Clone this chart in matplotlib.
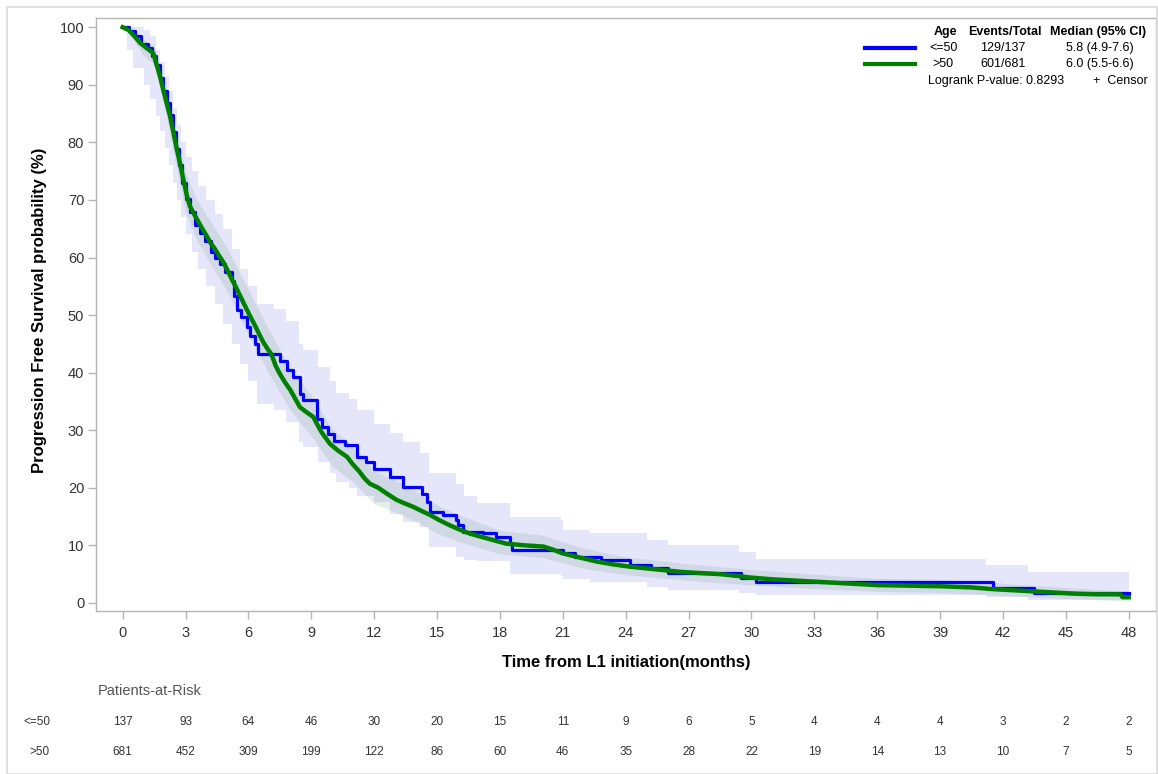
import numpy as np
import matplotlib
matplotlib.use('Agg')
import matplotlib.pyplot as plt
from matplotlib.lines import Line2D
from matplotlib.patches import Rectangle
import matplotlib.transforms as mtransforms

plt.rcParams['font.family'] = ['Liberation Sans', 'DejaVu Sans']

# KM estimate, Age <= 50
t_young = [0.0, 0.3, 0.6, 0.9, 1.2, 1.4, 1.6, 1.8, 1.95, 2.1, 2.25, 2.4, 2.55, 2.7, 2.85,
           3.0, 3.2, 3.45, 3.7, 3.95, 4.2, 4.4, 4.64, 4.9, 5.2, 5.3, 5.44, 5.65, 5.92, 6.1,
           6.3, 6.47, 7.2, 7.5, 7.82, 8.14, 8.46, 8.62, 9.25, 9.5, 9.8, 10.1, 10.6, 11.2,
           11.6, 12.0, 12.75, 13.4, 14.3, 14.5, 14.66, 15.3, 15.9, 16.0, 16.25, 17.2, 17.8,
           18.5, 18.6, 20.2, 21.0, 21.6, 22.8, 24.2, 25.2, 26.0, 29.5, 30.2, 41.5, 43.5, 48.0]
s_young = [100.0, 99.3, 98.5, 97.1, 96.4, 95.0, 93.4, 91.2, 89.0, 86.9, 84.7, 81.8, 78.9, 76.0, 73.0,
           70.1, 67.9, 65.7, 64.2, 62.8, 61.0, 60.0, 58.9, 57.5, 56.0, 53.3, 50.8, 49.6, 47.9, 46.4,
           44.9, 43.3, 43.3, 42.0, 40.4, 39.2, 36.3, 35.2, 32.0, 30.6, 29.4, 28.2, 27.4, 25.4,
           24.5, 23.3, 21.9, 20.2, 19.0, 17.5, 15.8, 15.3, 14.4, 13.6, 12.4, 12.1, 11.4,
           10.3, 9.2, 9.2, 8.7, 8.0, 7.5, 6.6, 6.1, 5.2, 4.3, 3.6, 2.6, 1.7, 1.7]

# KM estimate, Age > 50 (many small steps, read as a dense trace)
t_old = [0.0, 0.3, 0.6, 0.83, 1.1, 1.46, 1.62, 1.78, 1.95, 2.1, 2.26, 2.42, 2.58, 2.74, 2.89,
         3.05, 3.2, 3.37, 3.6, 3.8, 4.0, 4.2, 4.4, 4.6, 4.8, 5.0, 5.2, 5.44, 5.65, 5.85, 6.07,
         6.3, 6.5, 6.71, 6.9, 7.1, 7.3, 7.5, 7.75, 8.0, 8.23, 8.46, 8.75, 9.1, 9.3, 9.5, 9.7,
         9.9, 10.3, 10.7, 11.0, 11.3, 11.55, 11.8, 12.2, 12.6, 13.07, 13.45, 13.86, 14.25,
         14.66, 15.1, 15.6, 16.1, 16.6, 17.2, 17.8, 18.3, 19.2, 20.07, 20.5, 21.0, 21.8, 22.6,
         23.4, 24.2, 25.0, 25.8, 26.6, 27.5, 28.5, 29.3, 30.0, 31.0, 32.0, 33.0, 34.0, 35.0,
         36.0, 37.5, 39.0, 40.5, 41.5, 42.5, 43.5, 44.5, 45.5, 46.5, 47.6, 47.7, 48.0]
s_old = [100.0, 99.5, 98.3, 97.3, 96.5, 95.5, 93.5, 91.5, 89.0, 86.8, 84.6, 81.8, 78.9, 76.3, 73.7,
         71.0, 69.0, 67.8, 66.3, 65.0, 63.8, 62.5, 61.5, 60.3, 59.2, 57.8, 56.3, 54.6, 53.0, 51.5, 49.9,
         48.3, 46.8, 45.3, 44.2, 43.2, 41.2, 39.8, 38.3, 37.0, 35.5, 34.0, 33.2, 32.3, 30.9, 29.6, 28.6,
         27.6, 26.4, 25.4, 24.0, 22.8, 21.6, 20.7, 20.0, 19.0, 17.9, 17.3, 16.7, 16.0,
         15.3, 14.4, 13.5, 12.7, 12.0, 11.4, 10.8, 10.3, 10.0, 9.8, 9.3, 8.6, 7.9, 7.2,
         6.7, 6.3, 6.0, 5.7, 5.4, 5.2, 5.0, 4.7, 4.4, 4.1, 3.9, 3.7, 3.5, 3.3,
         3.1, 3.0, 2.9, 2.7, 2.4, 2.2, 2.0, 1.8, 1.6, 1.5, 1.5, 1.0, 1.0]

# 95% CI, Age <= 50
ci_t_young = [0.0, 0.2, 0.5, 1.0, 1.3, 1.6, 1.8, 2.0, 2.2, 2.4, 2.6, 2.8, 3.0, 3.3, 3.6, 4.0,
              4.4, 4.8, 5.2, 5.6, 6.0, 6.4, 7.2, 7.8, 8.4, 8.6, 9.3, 9.9, 10.2, 10.8, 11.2,
              12.0, 12.75, 13.4, 14.2, 14.6, 15.9, 16.3, 16.9, 18.5, 20.9, 21.0, 22.3, 25.0,
              26.0, 29.4, 30.2, 41.2, 43.2, 48.0]
ci_lo_young = [100, 96, 93, 90, 87.5, 84.5, 82, 79, 76, 73, 70, 67, 64, 61, 58, 55,
               52, 48.5, 45, 41.5, 38.5, 34.5, 33.5, 31.5, 28, 27, 24.5, 22.5, 21, 20, 18.5,
               17.5, 15.5, 14, 13.2, 9.8, 8.0, 7.5, 7.2, 5.1, 4.6, 4.2, 3.7, 2.8,
               2.3, 1.8, 1.4, 1.0, 0.5, 0.5]
ci_hi_young = [100, 100, 100, 99.5, 98.5, 96, 94, 91.5, 89, 86, 83, 80, 77.5, 75, 72.5, 70,
               67.5, 65, 61.5, 58, 55, 52, 51, 49, 45, 44, 41, 38.5, 36.5, 35.5, 33.5,
               31, 29.5, 28, 26, 22.5, 20.7, 18.5, 17.3, 15.0, 14.4, 12.7, 12.1, 10.9,
               10.1, 8.9, 7.7, 6.6, 5.4, 5.4]

# 95% CI, Age > 50
ci_t_old = [0, 0.5, 1.0, 1.5, 2.0, 2.5, 3.0, 3.5, 4.0, 5.0, 6.0, 7.0, 8.0, 9.0, 10.0, 11.0, 12.0,
            13.0, 14.0, 15.0, 16.0, 18.0, 20.0, 22.0, 24.0, 27.0, 30.0, 33.0, 36.0, 39.0, 42.0,
            45.0, 48.0]
ci_lo_old = [100, 97.8, 95.1, 93.6, 86.1, 76.9, 68.0, 63.2, 60.1, 54.0, 46.6, 39.7, 33.4, 29.0,
             23.8, 21.0, 17.2, 15.8, 14.1, 12.1, 10.7, 8.5, 7.9, 6.0, 4.9, 3.9, 3.1, 2.5, 2.0,
             1.8, 1.3, 0.8, 0.3]
ci_hi_old = [100, 99.6, 97.9, 96.8, 90.7, 83.0, 74.9, 70.3, 67.4, 61.6, 54.4, 47.3, 40.7, 36.0,
             30.3, 27.1, 22.9, 21.3, 19.4, 17.0, 15.4, 12.6, 11.8, 9.5, 8.0, 6.8, 5.8, 5.0, 4.3,
             4.1, 3.4, 2.7, 2.0]

risk_times = list(range(0, 49, 3))
risk_young = [137, 93, 64, 46, 30, 20, 15, 11, 9, 6, 5, 4, 4, 4, 3, 2, 2]
risk_old = [681, 452, 309, 199, 122, 86, 60, 46, 35, 28, 22, 19, 14, 13, 10, 7, 5]

W, H = 1158, 774
fig = plt.figure(figsize=(W / 100, H / 100), dpi=100)

def fx(x): return x / W
def fy(y): return 1 - y / H

ax = fig.add_axes([fx(96), fy(611), fx(1156) - fx(96), fy(18) - fy(611)])

BAND_BLUE = '#e6e6fb'
GRID = '#b4b4b4'
TXT = '#333333'

ax.fill_between(ci_t_young, ci_lo_young, ci_hi_young, step='post', color=BAND_BLUE, lw=0, zorder=1)
ax.fill_between(ci_t_old, ci_lo_old, ci_hi_old, color='#2a7a40', alpha=0.12, lw=0, zorder=2)
ax.step(t_young, s_young, where='post', color='#0000ff', lw=2.3, zorder=3)
ax.plot(t_old, s_old, color='#008000', lw=3.2, solid_joinstyle='round', zorder=4)

ax.set_xlim(-1.27, 49.3)
ax.set_ylim(-1.4, 101.6)
ax.set_xticks(risk_times)
ax.set_yticks(range(0, 101, 10))
for sp in ax.spines.values():
    sp.set_color(GRID)
    sp.set_linewidth(1.0)
ax.tick_params(axis='both', colors=GRID, labelcolor=TXT, labelsize=10.5, length=5.5, width=1)
ax.tick_params(axis='x', pad=5)
ax.tick_params(axis='y', pad=3)

fig.text(fx(40), fy(310), 'Progression Free Survival probability (%)', rotation=90,
         ha='center', va='center', fontsize=12, fontweight='bold', color='black')
fig.text(fx(626), fy(663), 'Time from L1 initiation(months)', ha='center', va='center',
         fontsize=12, fontweight='bold', color='black')

# legend block
fig.add_artist(Line2D([fx(865), fx(915)], [fy(48), fy(48)], color='#0000ff', lw=3))
fig.add_artist(Line2D([fx(865), fx(915)], [fy(64), fy(64)], color='#008000', lw=3))
lg = dict(fontsize=9, color='black', va='center')
fig.text(fx(945), fy(32), 'Age', ha='center', fontweight='bold', **lg)
fig.text(fx(1005), fy(32), 'Events/Total', ha='center', fontweight='bold', **lg)
fig.text(fx(1098), fy(32), 'Median (95% CI)', ha='center', fontweight='bold', **lg)
fig.text(fx(929), fy(48), '<=50', ha='left', **lg)
fig.text(fx(932), fy(64), '>50', ha='left', **lg)
fig.text(fx(1003), fy(48), '129/137', ha='center', **lg)
fig.text(fx(1003), fy(64), '601/681', ha='center', **lg)
fig.text(fx(1134), fy(48), '5.8 (4.9-7.6)', ha='right', **lg)
fig.text(fx(1134), fy(64), '6.0 (5.5-6.6)', ha='right', **lg)
fig.text(fx(928), fy(81), 'Logrank P-value: 0.8293', ha='left', **lg)
fig.text(fx(1148), fy(81), '+  Censor', ha='right', **lg)

# patients at risk table
trans = mtransforms.blended_transform_factory(ax.transData, fig.transFigure)
fig.text(fx(98), fy(691), 'Patients-at-Risk', ha='left', va='center', fontsize=10.5, color='#555555')
fig.text(fx(50), fy(722), '<=50', ha='right', va='center', fontsize=8.5, color=TXT)
fig.text(fx(50), fy(752), '>50', ha='right', va='center', fontsize=8.5, color=TXT)
for t, a, b in zip(risk_times, risk_young, risk_old):
    ax.text(t, fy(722), str(a), transform=trans, ha='center', va='center', fontsize=8.5, color=TXT)
    ax.text(t, fy(752), str(b), transform=trans, ha='center', va='center', fontsize=8.5, color=TXT)

# outer frame
fig.add_artist(Rectangle((fx(7), 0), fx(1157) - fx(7), fy(7), transform=fig.transFigure,
                         fill=False, edgecolor='#dcdcdc', lw=1.2))

fig.savefig('out.png', dpi=100)
